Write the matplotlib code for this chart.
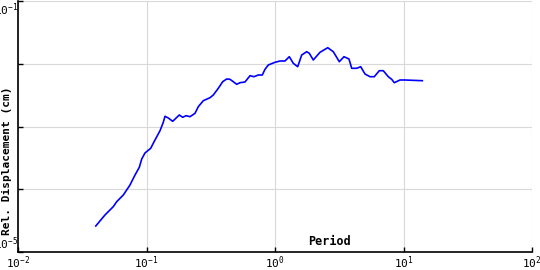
import numpy as np
import matplotlib
matplotlib.use('Agg')
import matplotlib.pyplot as plt

plt.rcParams['font.family'] = 'DejaVu Sans Mono'
plt.rcParams['mathtext.fontset'] = 'custom'
plt.rcParams['mathtext.rm'] = 'DejaVu Sans Mono'
plt.rcParams['mathtext.it'] = 'DejaVu Sans Mono'

# period (s) and relative displacement (cm)
period = [0.0403, 0.0475, 0.0551, 0.0586, 0.0660, 0.0744, 0.0814, 0.0879, 0.0918, 0.0973,
          0.1078, 0.1164, 0.1274, 0.1351, 0.1393, 0.1478, 0.1599, 0.1800, 0.1913, 0.2030,
          0.2182, 0.2385, 0.2530, 0.2767, 0.3119, 0.3310, 0.3620, 0.3917, 0.4208, 0.4466,
          0.4736, 0.5032, 0.5340, 0.5841, 0.6389, 0.6863, 0.7413, 0.7963, 0.8360, 0.8867,
          1.000, 1.094, 1.196, 1.292, 1.388, 1.502, 1.613, 1.765, 1.849, 1.986,
          2.239, 2.572, 2.842, 3.166, 3.443, 3.765, 3.953, 4.323, 4.645, 5.016,
          5.486, 5.925, 6.481, 6.963, 7.614, 8.091, 8.482, 9.391, 10.27, 14.01]
rel_disp = [2.597e-5, 3.888e-5, 5.27e-5, 6.33e-5, 8.10e-5, 1.169e-4, 1.687e-4, 2.237e-4, 3.034e-4, 3.783e-4,
            4.494e-4, 6.09e-4, 8.57e-4, 1.166e-3, 1.454e-3, 1.366e-3, 1.210e-3, 1.526e-3, 1.402e-3, 1.486e-3,
            1.433e-3, 1.623e-3, 2.068e-3, 2.578e-3, 2.877e-3, 3.177e-3, 4.062e-3, 5.176e-3, 5.715e-3, 5.652e-3,
            5.176e-3, 4.705e-3, 4.989e-3, 5.119e-3, 6.450e-3, 6.217e-3, 6.617e-3, 6.617e-3, 8.157e-3, 9.552e-3,
            1.0546e-2, 1.106e-2, 1.106e-2, 1.2952e-2, 1.0167e-2, 8.974e-3, 1.378e-2, 1.556e-2, 1.468e-2, 1.148e-2,
            1.522e-2, 1.802e-2, 1.556e-2, 1.078e-2, 1.295e-2, 1.190e-2, 8.463e-3, 8.463e-3, 8.974e-3, 6.865e-3,
            6.217e-3, 6.217e-3, 7.748e-3, 7.748e-3, 6.217e-3, 5.652e-3, 4.989e-3, 5.508e-3, 5.508e-3, 5.368e-3]

xticks = [1e-2, 1e-1, 1e0, 1e1, 1e2]
xticklabels = ['$10^{-2}$', '$10^{-1}$', '$10^{0}$', '$10^{1}$', '$10^{2}$']
yticks = [1e-5, 1e-4, 1e-3, 1e-2, 1e-1]
yticklabels = ['$10^{-5}$', '', '', '', '$10^{-1}$']

fig = plt.figure(figsize=(5.4, 2.7), dpi=100)
ax = fig.add_axes([18/540, 18/270, 514/540, 251/270])

ax.plot(period, rel_disp, color='#0000ff', lw=1.2)

ax.set_xscale('log')
ax.set_yscale('log')
ax.set_xlim(1e-2, 1e2)
ax.set_ylim(1e-5, 1e-1)
ax.set_xticks(xticks)
ax.set_xticklabels(xticklabels)
ax.set_yticks(yticks)
ax.set_yticklabels(yticklabels)
ax.minorticks_off()
ax.grid(True, color='#d9d9d9', lw=0.8)
ax.set_axisbelow(True)

for s in ['top', 'right']:
    ax.spines[s].set_visible(False)
for s in ['left', 'bottom']:
    ax.spines[s].set_linewidth(1.2)

ax.tick_params(direction='in', length=3.5, width=1, labelsize=8, pad=2)
ax.tick_params(axis='y', pad=0)
ylab = ax.get_yticklabels()
ylab[0].set_va('bottom')
ylab[-1].set_va('top')

ax.set_xlabel('Period', fontsize=8.5, fontweight='bold')
ax.xaxis.set_label_coords(0.607, 0.04)
ax.xaxis.label.set_va('center')
ax.set_ylabel('Rel. Displacement (cm)', fontsize=8, fontweight='bold')
ax.yaxis.set_label_coords(-0.021, 0.3625)
ax.yaxis.label.set_va('center')

fig.savefig('out.png', dpi=100)
